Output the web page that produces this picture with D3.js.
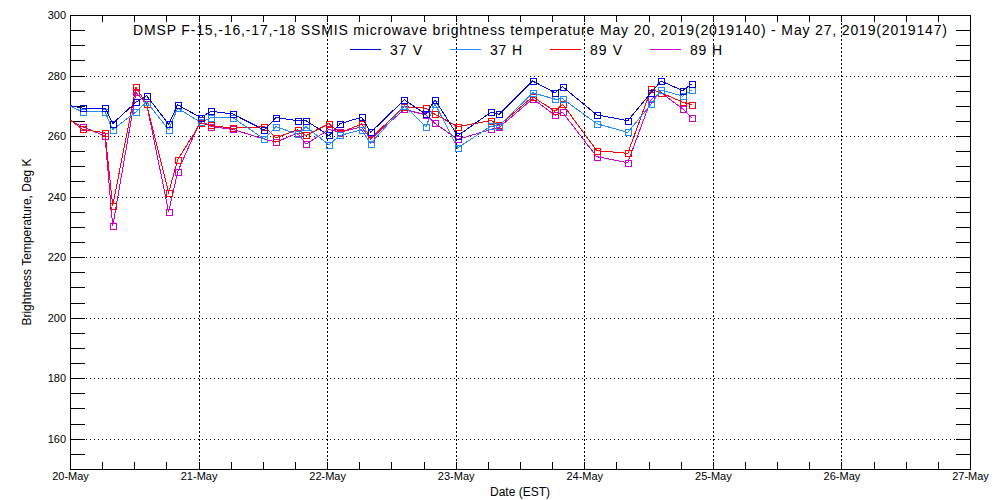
<!DOCTYPE html>
<html>
<head>
<meta charset="utf-8">
<script src="https://cdn.jsdelivr.net/npm/d3@7/dist/d3.min.js"></script>
<style>
  html, body { margin: 0; padding: 0; background: #fff; }
  svg { display: block; }
  text { font-family: "Liberation Sans", "DejaVu Sans", sans-serif; fill: #000; }
</style>
</head>
<body>
<svg id="chart" width="1000" height="500"></svg>
<script>
// ---------------- data ----------------
const titleText = "DMSP F-15,-16,-17,-18 SSMIS microwave brightness temperature May 20, 2019(2019140) - May 27, 2019(2019147)";
const xAxisTitle = "Date (EST)";
const yAxisTitle = "Brightness Temperature, Deg K";

const seriesNames = ["37 V", "37 H", "89 V", "89 H"];
const seriesColors = ["#0000dd", "#1e8cff", "#ff0000", "#cc00cc"];

const times = [
  "2019-05-19 22:00",
  "2019-05-20 02:22", "2019-05-20 06:32", "2019-05-20 07:58", "2019-05-20 12:19",
  "2019-05-20 14:19", "2019-05-20 18:25", "2019-05-20 20:06",
  "2019-05-21 00:24", "2019-05-21 02:19", "2019-05-21 06:22", "2019-05-21 12:16",
  "2019-05-21 14:27", "2019-05-21 18:30", "2019-05-21 20:03",
  "2019-05-22 00:21", "2019-05-22 02:24", "2019-05-22 06:27", "2019-05-22 08:08",
  "2019-05-22 14:24", "2019-05-22 18:27", "2019-05-22 20:08",
  "2019-05-23 00:22", "2019-05-23 06:35", "2019-05-23 08:08", "2019-05-23 14:22",
  "2019-05-23 18:32", "2019-05-23 19:58",
  "2019-05-24 02:19", "2019-05-24 08:07", "2019-05-24 12:28", "2019-05-24 14:20",
  "2019-05-24 18:22", "2019-05-24 20:03"
];

const tb37V = [270.8,
  269.2, 269.2, 264.1, 271.2, 273.3, 263.9, 270.3,
  266.1, 268.2, 267.3, 262.0, 266.1, 265.1, 265.1,
  260.2, 264.1, 266.2, 261.2, 272.0, 267.2, 272.0,
  260.1, 267.9, 267.2, 278.2, 274.3, 276.3,
  267.0, 265.1, 274.3, 278.2, 275.0, 277.2];

const tb37H = [271.5,
  268.0, 268.0, 262.1, 268.0, 271.3, 262.1, 269.2,
  264.5, 266.1, 266.1, 259.0, 263.1, 260.6, 263.1,
  257.1, 260.2, 262.1, 257.5, 270.0, 263.1, 270.7,
  256.1, 263.3, 263.4, 274.3, 272.2, 272.3,
  264.1, 261.2, 270.5, 275.2, 273.2, 275.2];

const tb89V = [268.0,
  262.2, 261.1, 237.0, 276.1, 270.5, 241.3, 252.2,
  264.3, 263.5, 262.6, 263.1, 259.4, 262.1, 260.2,
  264.1, 261.1, 264.0, 259.3, 269.7, 269.2, 267.2,
  263.1, 265.1, 263.6, 273.0, 268.2, 270.5,
  255.2, 254.3, 275.4, 274.3, 271.2, 270.3];

const tb89H = [266.8,
  263.1, 260.0, 230.2, 274.4, 270.5, 235.0, 248.2,
  265.3, 263.1, 262.2, 259.0, 258.0, 261.0, 257.3,
  262.2, 261.3, 263.0, 259.0, 268.8, 267.0, 264.2,
  258.9, 262.2, 262.9, 272.3, 266.9, 267.8,
  253.2, 251.2, 272.1, 274.3, 269.0, 266.1];

const xDomain = ["2019-05-20 00:00", "2019-05-27 00:00"];
const yDomain = [150, 300];
const yTickLabels = [160, 180, 200, 220, 240, 260, 280, 300];
const xTickLabels = ["20-May", "21-May", "22-May", "23-May", "24-May", "25-May", "26-May", "27-May"];

// ---------------- chart ----------------
const parse = d3.utcParse("%Y-%m-%d %H:%M");
const seriesValues = [tb37V, tb37H, tb89V, tb89H];

const plot = { left: 70, right: 970, top: 15, bottom: 469 };

const svg = d3.select("#chart");

const x = d3.scaleUtc().domain(xDomain.map(parse)).range([plot.left, plot.right]);
const y = d3.scaleLinear().domain(yDomain).range([plot.bottom, plot.top]);

const dayTicks = d3.utcDay.range(parse(xDomain[0]), d3.utcHour.offset(parse(xDomain[1]), 1));
const sixHourTicks = d3.utcHour.every(6).range(parse(xDomain[0]), d3.utcHour.offset(parse(xDomain[1]), 1));
const yMinor = d3.range(yDomain[0], yDomain[1] + 0.001, 5);

// grid
const grid = svg.append("g").attr("shape-rendering", "crispEdges");
grid.selectAll("line.gx").data(dayTicks.slice(1, -1)).join("line")
  .attr("x1", d => Math.round(x(d)) + 0.5).attr("x2", d => Math.round(x(d)) + 0.5)
  .attr("y1", plot.top).attr("y2", plot.bottom)
  .attr("stroke", "#000").attr("stroke-width", 1).attr("stroke-dasharray", "2,2");
grid.selectAll("line.gy").data(yTickLabels.filter(v => v > yDomain[0] && v < yDomain[1])).join("line")
  .attr("y1", d => Math.round(y(d)) + 0.5).attr("y2", d => Math.round(y(d)) + 0.5)
  .attr("x1", plot.left).attr("x2", plot.right)
  .attr("stroke", "#000").attr("stroke-width", 1).attr("stroke-dasharray", "1,3");

// axes
const labelFmt = d => {
  const i = dayTicks.findIndex(t => +t === +d);
  return i >= 0 ? xTickLabels[i] : "";
};
const yFmt = d => yTickLabels.includes(d) ? String(d) : "";

const gxb = svg.append("g").attr("transform", `translate(0,${plot.bottom})`)
  .call(d3.axisBottom(x).tickValues(sixHourTicks).tickSizeInner(-7).tickSizeOuter(0).tickPadding(3).tickFormat(labelFmt));
const gxt = svg.append("g").attr("transform", `translate(0,${plot.top})`)
  .call(d3.axisTop(x).tickValues(sixHourTicks).tickSizeInner(-7).tickSizeOuter(0).tickFormat(""));
const gyl = svg.append("g").attr("transform", `translate(${plot.left},0)`)
  .call(d3.axisLeft(y).tickValues(yMinor).tickSizeInner(-15).tickSizeOuter(0).tickPadding(4).tickFormat(yFmt));
const gyr = svg.append("g").attr("transform", `translate(${plot.right},0)`)
  .call(d3.axisRight(y).tickValues(yMinor).tickSizeInner(-14).tickSizeOuter(0).tickFormat(""));

[gxb, gxt, gyl, gyr].forEach(g => {
  g.attr("shape-rendering", "crispEdges");
  g.selectAll(".domain").remove();
  g.selectAll("line").attr("stroke", "#000");
  g.selectAll("text").attr("font-size", 11).attr("font-family", "Liberation Sans, DejaVu Sans, sans-serif").attr("fill", "#000");
});

// frame
svg.append("rect")
  .attr("x", plot.left + 0.5).attr("y", plot.top + 0.5)
  .attr("width", plot.right - plot.left).attr("height", plot.bottom - plot.top)
  .attr("fill", "none").attr("stroke", "#000").attr("stroke-width", 1)
  .attr("shape-rendering", "crispEdges");

// clip
svg.append("clipPath").attr("id", "plotclip").append("rect")
  .attr("x", plot.left).attr("y", plot.top)
  .attr("width", plot.right - plot.left + 1).attr("height", plot.bottom - plot.top + 1);

const dataG = svg.append("g").attr("clip-path", "url(#plotclip)");

const line = d3.line().x(d => x(d.t)).y(d => y(d.v));

const drawOrder = [3, 2, 1, 0];
drawOrder.forEach(si => {
  const pts = times.map((t, i) => ({ t: parse(t), v: seriesValues[si][i] }));
  const g = dataG.append("g");
  g.append("path").datum(pts)
    .attr("d", line)
    .attr("fill", "none").attr("stroke", seriesColors[si]).attr("stroke-width", 1)
    .attr("shape-rendering", "crispEdges");
  g.selectAll("rect").data(pts).join("rect")
    .attr("x", d => Math.round(x(d.t)) - 2.5)
    .attr("y", d => Math.round(y(d.v)) - 2.5)
    .attr("width", 6).attr("height", 6)
    .attr("fill", "none").attr("stroke", seriesColors[si]).attr("stroke-width", 1)
    .attr("shape-rendering", "crispEdges");
});

// title
svg.append("text")
  .attr("x", 133).attr("y", 35)
  .attr("font-size", 14)
  .attr("textLength", 814).attr("lengthAdjust", "spacing")
  .text(titleText);

// legend
const legend = svg.append("g");
seriesNames.forEach((name, i) => {
  const x0 = 350 + i * 100;
  legend.append("line")
    .attr("x1", x0).attr("x2", x0 + 31)
    .attr("y1", 49.5).attr("y2", 49.5)
    .attr("stroke", seriesColors[i]).attr("stroke-width", 1)
    .attr("shape-rendering", "crispEdges");
  legend.append("text")
    .attr("x", x0 + 40).attr("y", 55)
    .attr("font-size", 14)
    .attr("textLength", 32).attr("lengthAdjust", "spacing")
    .text(name);
});

// axis titles
svg.append("text")
  .attr("x", (plot.left + plot.right) / 2).attr("y", 496)
  .attr("text-anchor", "middle").attr("font-size", 12)
  .text(xAxisTitle);

svg.append("text")
  .attr("transform", `translate(31,${(plot.top + plot.bottom) / 2}) rotate(-90)`)
  .attr("text-anchor", "middle").attr("font-size", 12)
  .text(yAxisTitle);
</script>
</body>
</html>
